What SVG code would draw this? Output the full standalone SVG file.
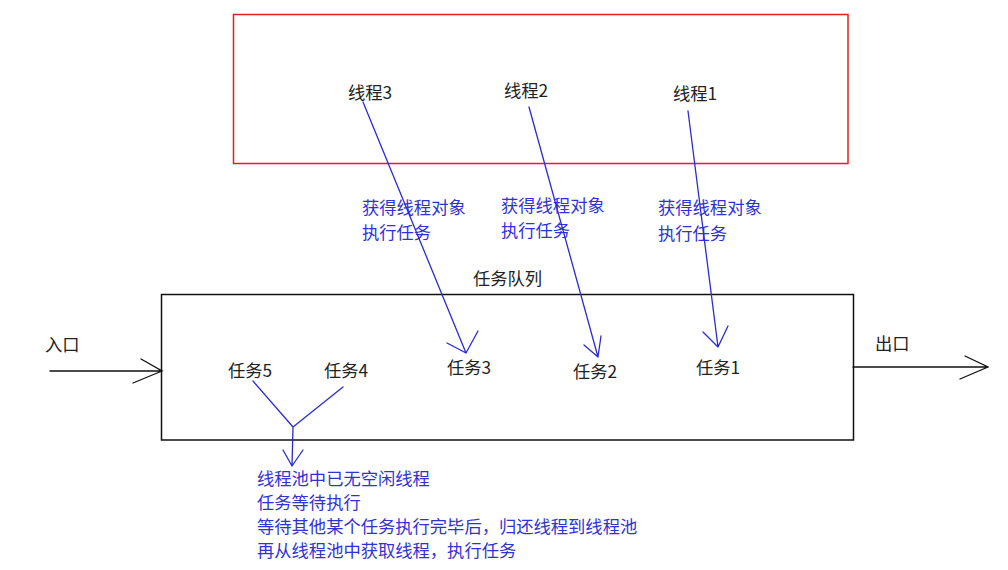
<svg xmlns="http://www.w3.org/2000/svg" width="1008" height="570" viewBox="0 0 1008 570">
<style>
text{font-family:"Noto Sans CJK SC","Microsoft YaHei",sans-serif;font-size:17.3px}
.k{fill:#222}
.b{fill:#3232d4}
.bl{stroke:#2b2bd0;stroke-width:1.3;fill:none;stroke-linecap:round;stroke-linejoin:round}
.kl{stroke:#111;stroke-width:1.3;fill:none;stroke-linecap:round}
</style>
<rect width="1008" height="570" fill="#fff"/>
<g id="thread-pool">
<rect x="233.5" y="14.5" width="614.5" height="149" fill="none" stroke="#e02020" stroke-width="1.5"/>
</g>
<g id="thread3"><text class="k" x="348" y="99">线程3</text></g>
<g id="thread2"><text class="k" x="504" y="97">线程2</text></g>
<g id="thread1"><text class="k" x="673" y="100">线程1</text></g>
<g id="label3"><text class="b" x="362" y="214">获得线程对象</text><text class="b" x="362" y="239">执行任务</text></g>
<g id="label2"><text class="b" x="501" y="212">获得线程对象</text><text class="b" x="501" y="237">执行任务</text></g>
<g id="label1"><text class="b" x="658" y="214">获得线程对象</text><text class="b" x="658" y="240">执行任务</text></g>
<g id="task-queue">
<text class="k" x="473" y="285">任务队列</text>
<rect x="161.5" y="294.5" width="692" height="145.5" fill="none" stroke="#111" stroke-width="1.5"/>
</g>
<g id="task5"><text class="k" x="228" y="377">任务5</text></g>
<g id="task4"><text class="k" x="324" y="377">任务4</text></g>
<g id="task3"><text class="k" x="447" y="374">任务3</text></g>
<g id="task2"><text class="k" x="573" y="378">任务2</text></g>
<g id="task1"><text class="k" x="696" y="374">任务1</text></g>
<g id="entry"><text class="k" x="45" y="351">入口</text></g>
<g id="exit"><text class="k" x="875" y="350">出口</text></g>
<g id="wait-note">
<text class="b" x="257" y="485">线程池中已无空闲线程</text>
<text class="b" x="257" y="509">任务等待执行</text>
<text class="b" x="257" y="533">等待其他某个任务执行完毕后，归还线程到线程池</text>
<text class="b" x="257" y="557">再从线程池中获取线程，执行任务</text>
</g>
<g id="connectors">
<path class="kl" d="M50,371 H162 M141,359 L162,371 L133,383"/>
<path class="kl" d="M853,367 H988 M965,356 L988,367 L960,379"/>
<path class="bl" d="M363,102 L466,353 M447,343 L466,353 L478,331"/>
<path class="bl" d="M529,107 L598,357 M584,345 L598,357 L601,336"/>
<path class="bl" d="M688,111 L718,347 M703,332 L718,347 L728,326"/>
<path class="bl" d="M253,381 L293,427 L343,387 M293,427 L292,466 M283,450 L292,466 L303,450"/>
</g>
</svg>
